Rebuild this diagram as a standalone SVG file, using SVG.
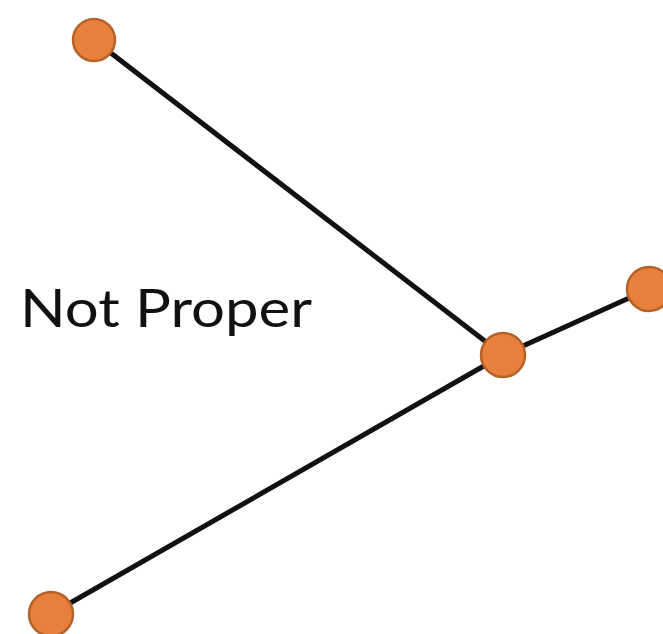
<svg xmlns="http://www.w3.org/2000/svg" width="663" height="634" viewBox="0 0 663 634">
<style>
.node{fill:#E8803C;stroke:#B5622A;stroke-width:2.5}
.edge{stroke:#111;stroke-width:5;stroke-linecap:round}
.lbl{font-family:"Lato","Open Sans",sans-serif;font-size:52px;fill:#111}
</style>
<rect width="663" height="634" fill="#fff"/>
<g id="connectors">
<line class="edge" x1="94" y1="40" x2="503" y2="355"/>
<line class="edge" x1="503" y1="355" x2="649" y2="289"/>
<line class="edge" x1="503" y1="355" x2="51" y2="614"/>
</g>
<g id="n1"><circle class="node" cx="94" cy="40" r="21"/></g>
<g id="n2"><circle class="node" cx="503" cy="355" r="22"/></g>
<g id="n3"><circle class="node" cx="649" cy="289" r="22"/></g>
<g id="n4"><circle class="node" cx="51" cy="614" r="22"/></g>
<text class="lbl" x="20" y="327" textLength="292" lengthAdjust="spacingAndGlyphs">Not Proper</text>
</svg>
